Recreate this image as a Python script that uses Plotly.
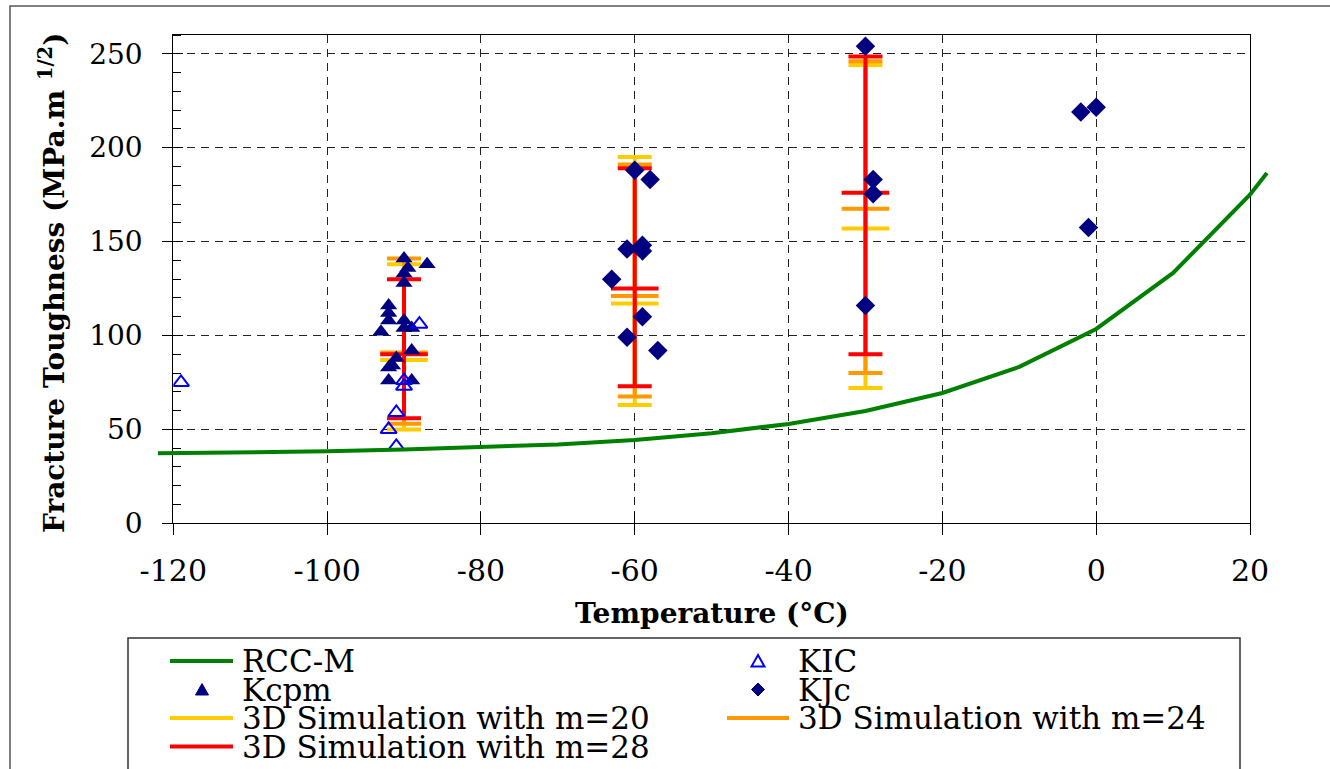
import plotly.graph_objects as go

W, H = 1330, 769

# ---------------- data ----------------
rcc_t = [-122, -110, -100, -90, -80, -70, -60, -50, -40, -30, -20, -10, 0, 10, 20, 22.2]
rcc_k = [37.3, 37.6, 38.3, 39.3, 40.5, 42.0, 44.4, 48.0, 52.9, 59.8, 69.4, 83.3, 103.5, 133.3, 175.0, 186.5]

kcpm_t = [-90, -89.5, -90, -90, -87, -92, -92, -92, -90, -93, -90, -89, -89, -91, -92, -91.5, -92, -89]
kcpm_k = [141, 136, 133, 128, 138, 116, 112, 108, 108, 102, 104, 104, 92, 88, 83, 84, 76, 76]

kic_t = [-119, -88, -90, -90, -91, -92, -91]
kic_k = [75, 106, 76, 73, 59, 50, 41]

kjc_t = [-60, -58, -61, -59, -59, -63, -59, -61, -57, -30, -29, -29, -30, -2, 0, -1]
kjc_k = [188, 183, 146, 148, 145, 130, 110, 99, 92, 254, 183, 175.5, 116, 219, 221.5, 157.5]

sim_t = [-90, -60, -30]
m20_low, m20_mid, m20_high = [50, 63, 72], [87, 117, 157], [138, 195, 244]
m24_low, m24_mid, m24_high = [53, 67.5, 80], [91, 121, 167.5], [141, 191, 246]
m28_low, m28_mid, m28_high = [56, 73, 90], [90, 125, 176], [130, 189, 248.5]

x_ticks = [-120, -100, -80, -60, -40, -20, 0, 20]
y_ticks = [0, 50, 100, 150, 200, 250]

# ---------------- styles ----------------
GREEN, NAVY, BLUE = "#008000", "#000080", "#0000FF"
YELLOW, ORANGE, RED = "#FFCC00", "#FF9900", "#FF0000"
FONT = "DejaVu Serif"

# plot area in pixels
PL, PR, PT, PB = 173.3, 1250.0, 35.0, 523.3
X_RANGE = [-120, 20]
Y_RANGE = [0, 260]
pxdeg = (PR - PL) / (X_RANGE[1] - X_RANGE[0])


def fx(px):
    return px / W


def fy(py):
    return 1 - py / H


fig = go.Figure()

# simulations (error bars: low / mid / high)
for name, c, lo, mid, hi in [
    ("3D Simulation with m=20", YELLOW, m20_low, m20_mid, m20_high),
    ("3D Simulation with m=24", ORANGE, m24_low, m24_mid, m24_high),
    ("3D Simulation with m=28", RED, m28_low, m28_mid, m28_high),
]:
    fig.add_trace(go.Scatter(
        x=sim_t, y=mid, name=name, mode="markers",
        marker=dict(symbol="line-ew", size=34, color=c, line=dict(width=4, color=c)),
        error_y=dict(type="data", symmetric=False,
                     array=[h - m for h, m in zip(hi, mid)],
                     arrayminus=[m - l for m, l in zip(mid, lo)],
                     color=c, thickness=4, width=17),
        showlegend=False, cliponaxis=False))

fig.add_trace(go.Scatter(x=kcpm_t, y=kcpm_k, name="Kcpm", mode="markers",
                         marker=dict(symbol="triangle-up", size=15, color=NAVY),
                         showlegend=False))
fig.add_trace(go.Scatter(x=kic_t, y=kic_k, name="KIC", mode="markers",
                         marker=dict(symbol="triangle-up-open", size=14, color=BLUE,
                                     line=dict(width=2, color=BLUE)),
                         showlegend=False))
fig.add_trace(go.Scatter(x=kjc_t, y=kjc_k, name="KJc", mode="markers",
                         marker=dict(symbol="diamond", size=15, color=NAVY),
                         showlegend=False, cliponaxis=False))

# RCC-M curve on a wider, same-scale subplot so it overhangs the frame as in the reference
fig.add_trace(go.Scatter(x=rcc_t, y=rcc_k, name="RCC-M", mode="lines",
                         line=dict(color=GREEN, width=4),
                         xaxis="x2", yaxis="y2", showlegend=False))

# dummy trace for the overlay axes that draw the inner half of the crossing ticks
fig.add_trace(go.Scatter(x=[None], y=[None], xaxis="x3", yaxis="y3",
                         showlegend=False, hoverinfo="skip"))

xdom = [fx(PL), fx(PR)]
ydom = [fy(PB), fy(PT)]
x2_left, x2_right = 150.0, 1290.0
x2_range = [X_RANGE[0] - (PL - x2_left) / pxdeg, X_RANGE[1] + (x2_right - PR) / pxdeg]

grid = dict(showgrid=True, gridcolor="#222222", gridwidth=1, griddash="8px,6px")

fig.update_layout(
    template="none",
    width=W, height=H, autosize=False,
    margin=dict(l=0, r=0, t=0, b=0, pad=0),
    paper_bgcolor="white", plot_bgcolor="rgba(0,0,0,0)",
    showlegend=False,
    xaxis=dict(domain=xdom, range=X_RANGE, tickvals=x_ticks,
               ticktext=[str(v) for v in x_ticks], automargin=False,
               ticks="outside", ticklen=11, tickwidth=1, tickcolor="black",
               showline=True, linecolor="black", linewidth=1, mirror=True,
               zeroline=False, tickfont=dict(family=FONT, size=30, color="black"),
               ticklabelstandoff=10, **grid),
    yaxis=dict(domain=ydom, range=Y_RANGE, tickvals=y_ticks,
               ticktext=[str(v) for v in y_ticks], automargin=False,
               ticks="outside", ticklen=10, tickwidth=1, tickcolor="black",
               minor=dict(ticks="inside", ticklen=8, tick0=0, dtick=10,
                          tickcolor="black", tickwidth=1, showgrid=False),
               showline=True, linecolor="black", linewidth=1, mirror=True,
               zeroline=False, tickfont=dict(family=FONT, size=28, color="black"),
               ticklabelstandoff=14, **grid),
    xaxis2=dict(domain=[fx(x2_left), fx(x2_right)], range=x2_range, anchor="y2",
                visible=False, showgrid=False, zeroline=False, automargin=False),
    yaxis2=dict(domain=ydom, range=Y_RANGE, anchor="x2", automargin=False,
                visible=False, showgrid=False, zeroline=False),
    xaxis3=dict(overlaying="x", range=X_RANGE, anchor="y3", tickvals=x_ticks,
                ticks="inside", ticklen=11, tickcolor="black", tickwidth=1, automargin=False,
                showticklabels=False, showgrid=False, showline=False, zeroline=False),
    yaxis3=dict(overlaying="y", range=Y_RANGE, anchor="x3", tickvals=y_ticks,
                ticks="inside", ticklen=10, tickcolor="black", tickwidth=1, automargin=False,
                showticklabels=False, showgrid=False, showline=False, zeroline=False),
)

annotations = [
    dict(text="<b>Temperature (°C)</b>", x=fx(712), y=fy(613), xref="paper", yref="paper",
         showarrow=False, xanchor="center", yanchor="middle",
         font=dict(family=FONT, size=28, color="black")),
    dict(text="<b>Fracture Toughness (MPa.m <sup>1/2</sup>)</b>", x=fx(52), y=fy(283),
         xref="paper", yref="paper", textangle=-90,
         showarrow=False, xanchor="center", yanchor="middle",
         font=dict(family=FONT, size=28, color="black")),
]

shapes = [
    # outer chart frame
    dict(type="rect", xref="paper", yref="paper", x0=fx(10), y0=fy(6), x1=fx(1345), y1=fy(785),
         line=dict(color="#555555", width=1.5), fillcolor="rgba(0,0,0,0)", layer="below"),
    # legend box
    dict(type="rect", xref="paper", yref="paper", x0=fx(128), y0=fy(638), x1=fx(1240), y1=fy(790),
         line=dict(color="#333333", width=1.5), fillcolor="rgba(0,0,0,0)"),
]

# ---------------- manual legend ----------------
rows_y = [661, 689.5, 718, 746.5]
cols = [dict(l0=170, l1=233, sym=202, text=240), dict(l0=727, l1=789, sym=758, text=796)]
legend_items = [
    ("RCC-M", "line", GREEN, 0, 0),
    ("KIC", "otri", BLUE, 1, 0),
    ("Kcpm", "tri", NAVY, 0, 1),
    ("KJc", "diamond", NAVY, 1, 1),
    ("3D Simulation with m=20", "line", YELLOW, 0, 2),
    ("3D Simulation with m=24", "line", ORANGE, 1, 2),
    ("3D Simulation with m=28", "line", RED, 0, 3),
]
for label, kind, color, ci, ri in legend_items:
    col = cols[ci]
    cy = rows_y[ri]
    cx = col["sym"]
    if kind == "line":
        shapes.append(dict(type="line", xref="paper", yref="paper",
                           x0=fx(col["l0"]), x1=fx(col["l1"]), y0=fy(cy), y1=fy(cy),
                           line=dict(color=color, width=4)))
    elif kind in ("tri", "otri"):
        p = "M {:.5f},{:.5f} L {:.5f},{:.5f} L {:.5f},{:.5f} Z".format(
            fx(cx - 6.5), fy(cy + 5.5), fx(cx + 6.5), fy(cy + 5.5), fx(cx), fy(cy - 6))
        if kind == "tri":
            shapes.append(dict(type="path", xref="paper", yref="paper", path=p,
                               fillcolor=color, line=dict(color=color, width=1)))
        else:
            shapes.append(dict(type="path", xref="paper", yref="paper", path=p,
                               fillcolor="white", line=dict(color=color, width=2)))
    elif kind == "diamond":
        p = "M {:.5f},{:.5f} L {:.5f},{:.5f} L {:.5f},{:.5f} L {:.5f},{:.5f} Z".format(
            fx(cx - 6.5), fy(cy), fx(cx), fy(cy - 6.5), fx(cx + 6.5), fy(cy), fx(cx), fy(cy + 6.5))
        shapes.append(dict(type="path", xref="paper", yref="paper", path=p,
                           fillcolor=color, line=dict(color=color, width=1)))
    annotations.append(dict(text=label, x=fx(col["text"]), y=fy(cy), xref="paper", yref="paper",
                            showarrow=False, xanchor="left", yanchor="middle",
                            font=dict(family=FONT, size=31, color="black")))

fig.update_layout(annotations=annotations, shapes=shapes)

fig.write_html("out.html")
